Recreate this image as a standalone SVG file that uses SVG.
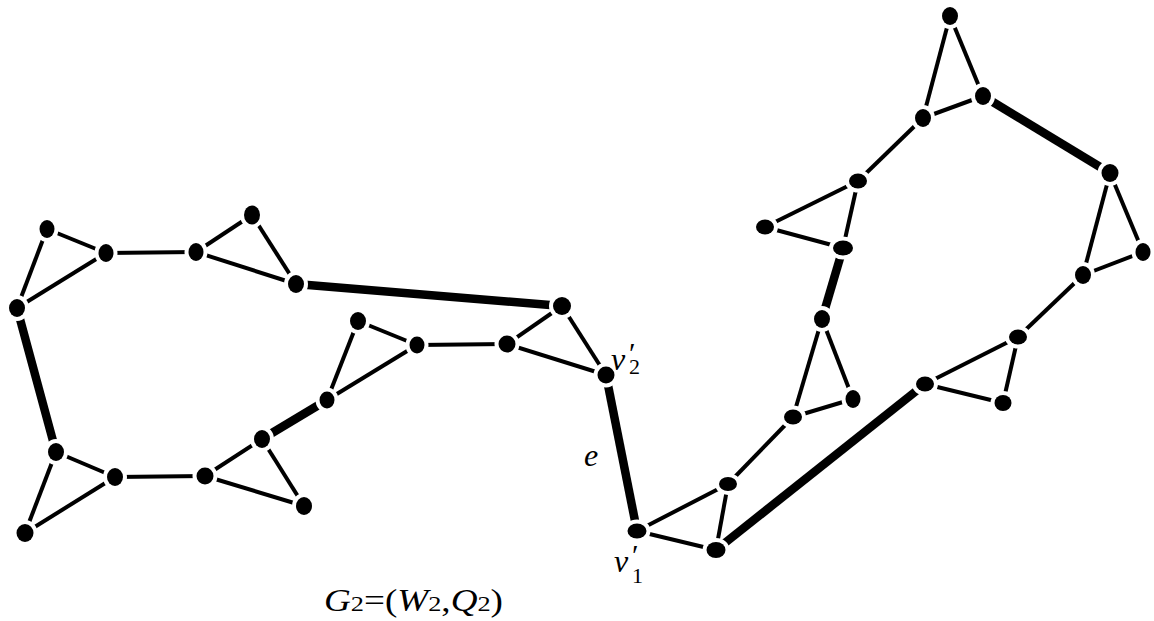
<svg xmlns="http://www.w3.org/2000/svg" width="1154" height="621" viewBox="0 0 1154 621">
<style>
.e{stroke:#000;stroke-width:4;fill:none}
.t{stroke:#000;stroke-width:8.5;fill:none}
.n{fill:#000;stroke:#fff;stroke-width:8;paint-order:stroke}
.lb{font-family:"Liberation Serif","Times New Roman",serif;font-style:italic;fill:#000}
.sb{font-family:"Liberation Serif","Times New Roman",serif;font-style:normal;fill:#000}
</style>
<rect width="1154" height="621" fill="#fff"/>
<g id="connectors">
<line class="e" x1="47" y1="229" x2="106" y2="253"/>
<line class="e" x1="47" y1="229" x2="17" y2="308"/>
<line class="e" x1="106" y1="253" x2="17" y2="308"/>
<line class="e" x1="106" y1="253" x2="196" y2="252"/>
<line class="e" x1="196" y1="252" x2="252" y2="215"/>
<line class="e" x1="252" y1="215" x2="296" y2="284"/>
<line class="e" x1="196" y1="252" x2="296" y2="284"/>
<line class="t" x1="296" y1="284" x2="562" y2="306"/>
<line class="e" x1="562" y1="306" x2="606" y2="375"/>
<line class="e" x1="562" y1="306" x2="507" y2="344"/>
<line class="e" x1="507" y1="344" x2="606" y2="375"/>
<line class="e" x1="507" y1="344" x2="417" y2="345"/>
<line class="e" x1="417" y1="345" x2="358" y2="321"/>
<line class="e" x1="358" y1="321" x2="327" y2="400"/>
<line class="e" x1="417" y1="345" x2="327" y2="400"/>
<line class="t" x1="327" y1="400" x2="262" y2="439"/>
<line class="e" x1="262" y1="439" x2="304" y2="506"/>
<line class="e" x1="262" y1="439" x2="205" y2="476"/>
<line class="e" x1="205" y1="476" x2="304" y2="506"/>
<line class="e" x1="205" y1="476" x2="115" y2="477"/>
<line class="e" x1="115" y1="477" x2="56" y2="452"/>
<line class="e" x1="56" y1="452" x2="25" y2="533"/>
<line class="e" x1="115" y1="477" x2="25" y2="533"/>
<line class="t" x1="56" y1="452" x2="17" y2="308"/>
<line class="t" x1="606" y1="375" x2="637" y2="531"/>
<line class="e" x1="637" y1="531" x2="728" y2="484"/>
<line class="e" x1="637" y1="531" x2="716" y2="550"/>
<line class="e" x1="728" y1="484" x2="716" y2="550"/>
<line class="e" x1="728" y1="484" x2="793" y2="417"/>
<line class="e" x1="793" y1="417" x2="822" y2="319"/>
<line class="e" x1="822" y1="319" x2="853" y2="399"/>
<line class="e" x1="793" y1="417" x2="853" y2="399"/>
<line class="t" x1="822" y1="319" x2="843" y2="248"/>
<line class="e" x1="843" y1="248" x2="765" y2="227"/>
<line class="e" x1="765" y1="227" x2="858" y2="181"/>
<line class="e" x1="858" y1="181" x2="843" y2="248"/>
<line class="e" x1="858" y1="181" x2="923" y2="118"/>
<line class="e" x1="923" y1="118" x2="950" y2="16"/>
<line class="e" x1="950" y1="16" x2="983" y2="96"/>
<line class="e" x1="923" y1="118" x2="983" y2="96"/>
<line class="t" x1="983" y1="96" x2="1110" y2="173"/>
<line class="e" x1="1110" y1="173" x2="1143" y2="252"/>
<line class="e" x1="1110" y1="173" x2="1083" y2="275"/>
<line class="e" x1="1083" y1="275" x2="1143" y2="252"/>
<line class="e" x1="1083" y1="275" x2="1018" y2="337"/>
<line class="e" x1="1018" y1="337" x2="1003" y2="403"/>
<line class="e" x1="1018" y1="337" x2="925" y2="384"/>
<line class="e" x1="925" y1="384" x2="1003" y2="403"/>
<line class="t" x1="925" y1="384" x2="716" y2="550"/>
</g>
<g id="nodes">
<g id="A1"><ellipse class="n" cx="47" cy="229" rx="7.5" ry="9"/></g>
<g id="A2"><ellipse class="n" cx="106" cy="253" rx="7.5" ry="9"/></g>
<g id="A3"><ellipse class="n" cx="17" cy="308" rx="8" ry="9"/></g>
<g id="A4"><ellipse class="n" cx="196" cy="252" rx="7.5" ry="9"/></g>
<g id="A5"><ellipse class="n" cx="252" cy="215" rx="8" ry="9.5"/></g>
<g id="A6"><ellipse class="n" cx="296" cy="284" rx="8" ry="9"/></g>
<g id="B1"><ellipse class="n" cx="562" cy="306" rx="9" ry="9"/></g>
<g id="B2"><ellipse class="n" cx="606" cy="375" rx="8.5" ry="8.5"/></g>
<g id="B3"><ellipse class="n" cx="507" cy="344" rx="8.5" ry="8.5"/></g>
<g id="B4"><ellipse class="n" cx="417" cy="345" rx="7.5" ry="8.5"/></g>
<g id="B5"><ellipse class="n" cx="358" cy="321" rx="8" ry="9"/></g>
<g id="B6"><ellipse class="n" cx="327" cy="400" rx="7.5" ry="8.5"/></g>
<g id="C1"><ellipse class="n" cx="262" cy="439" rx="8" ry="9"/></g>
<g id="C2"><ellipse class="n" cx="304" cy="506" rx="8" ry="9"/></g>
<g id="C3"><ellipse class="n" cx="205" cy="476" rx="8.5" ry="8.5"/></g>
<g id="C4"><ellipse class="n" cx="115" cy="477" rx="8" ry="9"/></g>
<g id="C5"><ellipse class="n" cx="56" cy="452" rx="8" ry="9"/></g>
<g id="C6"><ellipse class="n" cx="25" cy="533" rx="8.5" ry="9"/></g>
<g id="D1"><ellipse class="n" cx="637" cy="531" rx="9.5" ry="7.5"/></g>
<g id="D2"><ellipse class="n" cx="728" cy="484" rx="9" ry="7"/></g>
<g id="D3"><ellipse class="n" cx="716" cy="550" rx="9.5" ry="8"/></g>
<g id="G1"><ellipse class="n" cx="822" cy="319" rx="8" ry="9"/></g>
<g id="G2"><ellipse class="n" cx="853" cy="399" rx="7.5" ry="9"/></g>
<g id="G3"><ellipse class="n" cx="793" cy="417" rx="9" ry="7.5"/></g>
<g id="E1"><ellipse class="n" cx="950" cy="16" rx="8" ry="9"/></g>
<g id="E2"><ellipse class="n" cx="983" cy="96" rx="8" ry="9"/></g>
<g id="E3"><ellipse class="n" cx="923" cy="118" rx="8" ry="9"/></g>
<g id="E4"><ellipse class="n" cx="858" cy="181" rx="9" ry="7.5"/></g>
<g id="E5"><ellipse class="n" cx="765" cy="227" rx="9" ry="7.5"/></g>
<g id="E6"><ellipse class="n" cx="843" cy="248" rx="10" ry="7.5"/></g>
<g id="F1"><ellipse class="n" cx="1110" cy="173" rx="8.5" ry="9"/></g>
<g id="F2"><ellipse class="n" cx="1143" cy="252" rx="7.5" ry="9"/></g>
<g id="F3"><ellipse class="n" cx="1083" cy="275" rx="8" ry="9"/></g>
<g id="H1"><ellipse class="n" cx="1018" cy="337" rx="9" ry="7.5"/></g>
<g id="H2"><ellipse class="n" cx="1003" cy="403" rx="8.5" ry="8"/></g>
<g id="H3"><ellipse class="n" cx="925" cy="384" rx="9" ry="7.5"/></g>
</g>
<g id="labels">
<text class="lb" font-size="32"><tspan x="611" y="370">v</tspan><tspan class="sb" x="629" y="363" font-size="30">′</tspan><tspan class="sb" x="629" y="374" font-size="22">2</tspan></text>
<text class="lb" font-size="32"><tspan x="614" y="572">v</tspan><tspan class="sb" x="632" y="565" font-size="30">′</tspan><tspan class="sb" x="632" y="583" font-size="22">1</tspan></text>
<text class="lb" x="584" y="466" font-size="32">e</text>
<text x="324" y="611" font-size="31" class="lb" textLength="179" lengthAdjust="spacingAndGlyphs">G<tspan class="sb" font-size="22">2</tspan><tspan class="sb">=(</tspan>W<tspan class="sb" font-size="22">2</tspan><tspan class="sb">,</tspan>Q<tspan class="sb" font-size="22">2</tspan><tspan class="sb">)</tspan></text>
</g>
</svg>
